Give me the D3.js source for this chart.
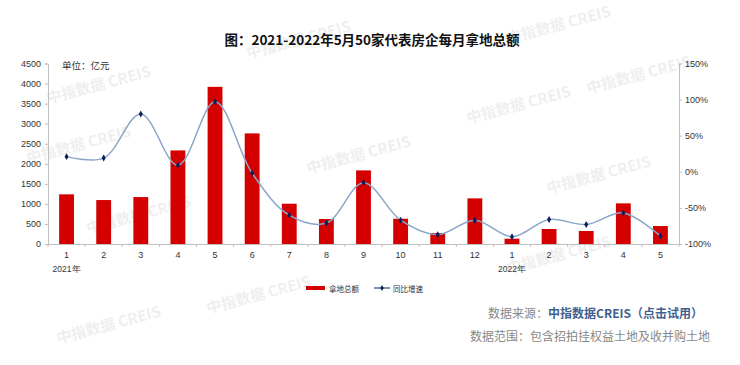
<!DOCTYPE html>
<html><head><meta charset="utf-8">
<script src="https://cdn.jsdelivr.net/npm/d3@7"></script>
<style>body{margin:0;background:#fff}svg{display:block}</style>
</head><body><svg id="c" width="740" height="365"></svg>
<script>
const months = ["1","2","3","4","5","6","7","8","9","10","11","12","1","2","3","4","5"];
const amounts = [1238,1096,1170,2333,3918,2757,1004,623,1835,630,274,1138,132,374,324,1013,448];
const yoy = [21,19,80,9,97,-2,-60,-71,-15,-67,-87,-67,-90,-66,-73,-57,-89];
const leftTicks = [0,500,1000,1500,2000,2500,3000,3500,4000,4500];
const rightTicks = [-100,-50,0,50,100,150];
const yearLabels = [{i:0,t:"2021年"},{i:12,t:"2022年"}];

const svg = d3.select("#c");
const L = 48, R = 679, T = 63.5, B = 244;
const x = d3.scaleBand().domain(d3.range(months.length)).range([L,R]).paddingInner(0.6).paddingOuter(0.3);
const yL = d3.scaleLinear().domain([0,4500]).range([B,T]);
const yR = d3.scaleLinear().domain([-100,150]).range([B,T]);

// watermarks
const wm = [[100,90],[300,45],[520,110],[140,220],[360,160],[600,180],[110,330],[560,260],[260,300],[640,80],[560,30],[80,150]];
wm.forEach(([wx,wy])=>{
  svg.append("text").attr("transform",`translate(${wx},${wy}) rotate(-15)`)
    .attr("font-family","Noto Sans CJK SC, sans-serif").attr("font-size",15).attr("font-weight","bold")
    .attr("fill","#efefef").attr("text-anchor","middle").text("中指数据 CREIS");
});

// title
svg.append("text").attr("x",372).attr("y",45).attr("text-anchor","middle")
  .attr("font-family","Noto Sans CJK SC, sans-serif").attr("font-weight","bold").attr("font-size",13.5)
  .attr("fill","#111").text("图：2021-2022年5月50家代表房企每月拿地总额");

// axes
const gL = svg.append("g").attr("transform",`translate(${L},0)`)
  .call(d3.axisLeft(yL).tickValues(leftTicks).tickSize(3).tickFormat(d3.format("d")));
const gR = svg.append("g").attr("transform",`translate(${R},0)`)
  .call(d3.axisRight(yR).tickValues(rightTicks).tickSize(3).tickFormat(d=>d+"%"));
const gB = svg.append("g").attr("transform",`translate(0,${B})`)
  .call(d3.axisBottom(x).tickFormat(i=>months[i]).tickSize(0).tickPadding(8));
[gL,gR,gB].forEach(g=>{
  g.selectAll("path,line").attr("stroke","#bfbfbf");
  g.selectAll("text").attr("font-family","Arial, Liberation Sans, sans-serif").attr("font-size",9).attr("fill","#333");
});
gL.selectAll("text").attr("dx",-1);
// category separators
gB.selectAll(".sep").data(d3.range(months.length+1)).enter().append("line")
  .attr("x1",i=>L+(R-L)*i/months.length).attr("x2",i=>L+(R-L)*i/months.length)
  .attr("y1",0).attr("y2",3).attr("stroke","#bfbfbf");

// unit
svg.append("text").attr("x",62).attr("y",69).attr("font-family","Noto Sans CJK SC, serif")
  .attr("font-size",9.5).attr("fill","#333").text("单位：亿元");

// bars
svg.append("g").selectAll("rect").data(amounts).enter().append("rect")
  .attr("x",(d,i)=>x(i)).attr("width",x.bandwidth()).attr("y",d=>yL(d)).attr("height",d=>B-yL(d))
  .attr("fill","#d40000");

// line
const line = d3.line().x((d,i)=>x(i)+x.bandwidth()/2).y(d=>yR(d)).curve(d3.curveCatmullRom.alpha(0.5));
svg.append("path").datum(yoy).attr("d",line).attr("fill","none").attr("stroke","#8aa6c8").attr("stroke-width",1.5);
svg.append("g").selectAll("path").data(yoy).enter().append("path")
  .attr("d",d3.symbol(d3.symbolDiamond,14))
  .attr("transform",(d,i)=>`translate(${x(i)+x.bandwidth()/2},${yR(d)})`).attr("fill","#0a1f5c");

// year labels
yearLabels.forEach(y=>{
  svg.append("text").attr("x",x(y.i)+x.bandwidth()/2).attr("y",272).attr("text-anchor","middle")
    .attr("font-family","Arial, Liberation Sans, sans-serif").attr("font-size",8.5).attr("fill","#333").text(y.t);
});

// legend
const lg = svg.append("g");
lg.append("rect").attr("x",306).attr("y",286).attr("width",19).attr("height",4).attr("fill","#d40000");
lg.append("text").attr("x",329).attr("y",291.5).attr("font-family","Noto Sans CJK SC, sans-serif").attr("font-size",7.5).attr("fill","#333").text("拿地总额");
lg.append("line").attr("x1",374).attr("x2",390).attr("y1",288).attr("y2",288).attr("stroke","#0a1f5c").attr("stroke-width",1);
lg.append("path").attr("d",d3.symbol(d3.symbolDiamond,10)).attr("transform","translate(382,288)").attr("fill","#0a1f5c");
lg.append("text").attr("x",393).attr("y",291.5).attr("font-family","Noto Sans CJK SC, sans-serif").attr("font-size",7.5).attr("fill","#333").text("同比增速");

// source
const s1 = svg.append("text").attr("x",703).attr("y",318).attr("text-anchor","end")
  .attr("font-family","Noto Sans CJK SC, sans-serif").attr("font-size",12);
s1.append("tspan").attr("fill","#888").text("数据来源：");
s1.append("tspan").attr("fill","#3f5f8f").attr("font-weight","bold").text("中指数据CREIS（点击试用）");
svg.append("text").attr("x",710).attr("y",341).attr("text-anchor","end")
  .attr("font-family","Noto Sans CJK SC, sans-serif").attr("font-size",12).attr("fill","#888")
  .text("数据范围：包含招拍挂权益土地及收并购土地");
</script></body></html>
